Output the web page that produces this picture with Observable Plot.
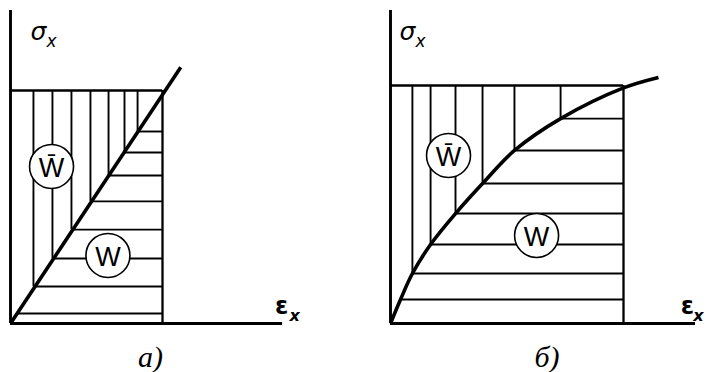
<!DOCTYPE html>
<html>
<head>
<meta charset="utf-8">
<script src="https://cdn.jsdelivr.net/npm/d3@7"></script>
<script src="https://cdn.jsdelivr.net/npm/@observablehq/plot@0.6"></script>
<style>
  html, body { margin: 0; padding: 0; background: #fff; }
  #fig { position: relative; width: 707px; height: 372px; overflow: hidden; }
  #fig svg { position: absolute; top: 0; }
</style>
</head>
<body>
<div id="fig"></div>
<script>
// Stress–strain diagrams: strain energy W (under the curve) and
// complementary energy W̄ (above it), for (а) a linear and (б) a nonlinear material.
// Strain and stress are expressed relative to the final state (ε, σ) = (1, 1).

// (а) linear loading line
const lineStrainA = [0, 1.12];
const lineStressA = [0, 1.10];
// hatch breakpoints on the line; the first carries only a horizontal hatch
const hatchStrainA = [0.043, 0.151, 0.276, 0.401, 0.526, 0.645, 0.750, 0.836];
const hatchStressA = [0.043, 0.159, 0.279, 0.403, 0.524, 0.635, 0.734, 0.824];

// (б) nonlinear loading curve
const curveStrainB = [0, 0.043, 0.094, 0.172, 0.279, 0.395, 0.532, 0.730, 1.0, 1.15];
const curveStressB = [0, 0.101, 0.210, 0.332, 0.462, 0.588, 0.727, 0.861, 0.99, 1.034];
// hatch breakpoints on the curve
const hatchStrainB = [0.043, 0.094, 0.172, 0.279, 0.395, 0.532, 0.730];
const hatchStressB = [0.101, 0.210, 0.332, 0.462, 0.588, 0.727, 0.861];

// final state bounding the hatched areas
const finalStrain = 1;
const finalStress = 1;

// axis lengths of each panel
const axisStrain = [1.79, 1.309];
const axisStress = [1.343, 1.315];

// energy labels and where they sit
const energyLabels = ["W\u0304", "W"];
const labelStrainA = [0.270, 0.641];
const labelStressA = [0.674, 0.292];
const labelStrainB = [0.249, 0.627];
const labelStressB = [0.706, 0.370];

const panelNames = ["а)", "б)"];
const stressLabel = "σ";
const strainLabel = "ε";
const subscript = "x";

const glyphFont = "DejaVu Sans";

function panel(o) {
  const curve = o.strain.map((s, i) => ({strain: s, stress: o.stress[i]}));
  const hatch = o.hatchStrain.map((s, i) => ({strain: s, stress: o.hatchStress[i]}));
  const labels = energyLabels.map((t, i) => ({text: t, strain: o.labelStrain[i], stress: o.labelStress[i]}));
  const ax = {strain: o.axisStrain, stress: o.axisStress};

  const svg = Plot.plot({
    width: o.width,
    height: 372,
    margin: 0,
    x: {domain: [0, 1], range: o.xRange, axis: null},
    y: {domain: [0, 1], range: o.yRange, axis: null},
    style: {background: "white", overflow: "visible"},
    marks: [
      // vertical hatching: complementary energy above the curve
      Plot.ruleX(hatch.slice(1), {x: "strain", y1: "stress", y2: finalStress, stroke: "black", strokeWidth: 1.9}),
      // horizontal hatching: strain energy below the curve
      Plot.ruleY(hatch, {y: "stress", x1: "strain", x2: finalStrain, stroke: "black", strokeWidth: 1.9}),
      // boundary of the final state
      Plot.ruleY([finalStress], {x1: 0, x2: finalStrain, stroke: "black", strokeWidth: 2.3}),
      Plot.ruleX([finalStrain], {y1: 0, y2: finalStress, stroke: "black", strokeWidth: 2.3}),
      // axes
      Plot.ruleX([0], {y1: 0, y2: ax.stress, stroke: "black", strokeWidth: 2.9}),
      Plot.ruleY([0], {x1: 0, x2: ax.strain, stroke: "black", strokeWidth: 2.9}),
      // loading curve
      Plot.line(curve, {x: "strain", y: "stress", curve: o.curve, stroke: "black", strokeWidth: 3.6, strokeLinecap: "butt"}),
      // energy labels in circles
      Plot.dot(labels, {x: "strain", y: "stress", r: 22, fill: "white", stroke: "black", strokeWidth: 1.6}),
      Plot.text(labels, {x: "strain", y: "stress", text: "text", fontSize: 27, fontFamily: "Liberation Sans", fill: "black", dy: 2}),
      // axis titles
      Plot.text([stressLabel], {x: 0, y: ax.stress, text: d => d, dx: o.sigmaDx, dy: 21, fontSize: 25, fontFamily: glyphFont, fontStyle: "italic", fill: "black"}),
      Plot.text([subscript], {x: 0, y: ax.stress, text: d => d, dx: o.sigmaDx + 13, dy: 31, fontSize: 17, fontFamily: glyphFont, fontStyle: "italic", fill: "black"}),
      Plot.text([strainLabel], {x: ax.strain, y: 0, text: d => d, dx: o.epsDx, dy: -17, fontSize: 24, fontFamily: glyphFont, fontWeight: "bold", fill: "black"}),
      Plot.text([subscript], {x: ax.strain, y: 0, text: d => d, dx: o.epsDx + o.subDx, dy: -8, fontSize: 16, fontFamily: glyphFont, fontStyle: "italic", fontWeight: "bold", fill: "black"}),
      // panel name
      Plot.text([o.name], {x: ax.strain / 2, y: 0, text: d => d, dx: 4, dy: 34, fontSize: 30, fontFamily: "Liberation Serif", fontStyle: "italic", fill: "black"})
    ]
  });
  svg.style.left = o.left + "px";
  return svg;
}

const fig = document.getElementById("fig");
fig.appendChild(panel({
  left: 0, width: 353, xRange: [10, 162], yRange: [323, 90],
  strain: lineStrainA, stress: lineStressA, curve: "linear",
  hatchStrain: hatchStrainA, hatchStress: hatchStressA,
  labelStrain: labelStrainA, labelStress: labelStressA,
  axisStrain: axisStrain[0], axisStress: axisStress[0],
  sigmaDx: 28, epsDx: -1, subDx: 13, name: panelNames[0]
}));
fig.appendChild(panel({
  left: 353, width: 354, xRange: [37, 270], yRange: [323, 85],
  strain: curveStrainB, stress: curveStressB, curve: "catmull-rom",
  hatchStrain: hatchStrainB, hatchStress: hatchStressB,
  labelStrain: labelStrainB, labelStress: labelStressB,
  axisStrain: axisStrain[1], axisStress: axisStress[1],
  sigmaDx: 17, epsDx: -8, subDx: 11, name: panelNames[1]
}));
</script>
</body>
</html>
